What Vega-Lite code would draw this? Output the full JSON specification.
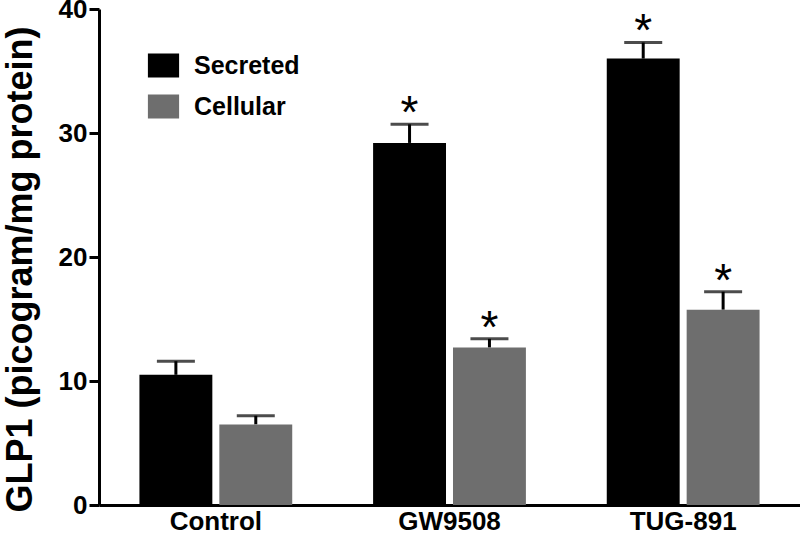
{
  "$schema": "https://vega.github.io/schema/vega-lite/v6.json",
  "autosize": {"type": "none"},
  "padding": {"left": 99, "top": 9, "right": 0, "bottom": 29},
  "width": 701,
  "height": 496,
  "background": "white",
  "config": {
    "view": {"stroke": null},
    "font": "Liberation Sans",
    "axis": {"labelColor": "black", "domainColor": "black", "tickColor": "black", "titleColor": "black", "grid": false}
  },
  "data": {
    "values": [
      {"group": "Control", "type": "Secreted", "value": 10.5, "upper": 11.6, "star": ""},
      {"group": "Control", "type": "Cellular", "value": 6.5, "upper": 7.2, "star": ""},
      {"group": "GW9508", "type": "Secreted", "value": 29.2, "upper": 30.7, "star": "*"},
      {"group": "GW9508", "type": "Cellular", "value": 12.7, "upper": 13.4, "star": "*"},
      {"group": "TUG-891", "type": "Secreted", "value": 36.0, "upper": 37.3, "star": "*"},
      {"group": "TUG-891", "type": "Cellular", "value": 15.75, "upper": 17.2, "star": "*"}
    ]
  },
  "encoding": {
    "x": {
      "field": "group", "type": "nominal", "sort": ["Control", "GW9508", "TUG-891"],
      "scale": {"paddingInner": 0, "paddingOuter": 0},
      "axis": {"title": null, "labelAngle": 0, "labelFontSize": 26, "labelFontWeight": "bold", "ticks": false, "labelPadding": 3, "domainWidth": 3}
    },
    "xOffset": {
      "field": "type", "type": "nominal", "sort": ["Secreted", "Cellular"],
      "scale": {"paddingInner": 0.0875, "paddingOuter": 0.506}
    }
  },
  "layer": [
    {
      "mark": {"type": "rule", "strokeWidth": 3, "color": "black"},
      "encoding": {
        "y": {"field": "value", "type": "quantitative"},
        "y2": {"field": "upper"}
      }
    },
    {
      "mark": {"type": "tick", "size": 38, "thickness": 3, "color": "black", "orient": "horizontal"},
      "encoding": {
        "y": {"field": "upper", "type": "quantitative"}
      }
    },
    {
      "mark": {"type": "bar"},
      "encoding": {
        "y": {
          "field": "value", "type": "quantitative",
          "scale": {"domain": [0, 40], "nice": false},
          "axis": {
            "title": "GLP1 (picogram/mg protein)", "values": [0, 10, 20, 30, 40],
            "labelFontSize": 26, "labelFontWeight": "bold", "labelPadding": 2,
            "tickSize": 10, "tickWidth": 3, "domainWidth": 3,
            "titleFontSize": 36, "titleFontWeight": "bold", "titleBaseline": "alphabetic",
            "titleX": -68, "titleY": 260, "titleAngle": -90, "titleAnchor": "middle"
          }
        },
        "color": {
          "field": "type", "type": "nominal", "sort": ["Secreted", "Cellular"],
          "scale": {"domain": ["Secreted", "Cellular"], "range": ["#000000", "#6e6e6e"]},
          "legend": {
            "title": null, "orient": "none", "legendX": 52, "legendY": 44,
            "padding": 0, "symbolType": "M-1.3,-1H1.3V1H-1.3Z", "symbolSize": 576,
            "symbolStrokeWidth": 0, "labelFontSize": 25, "labelFontWeight": "bold",
            "labelColor": "black", "labelOffset": 18, "rowPadding": 15, "labelBaseline": "middle"
          }
        }
      }
    },
    {
      "mark": {"type": "text", "fontSize": 46, "baseline": "alphabetic", "dy": 4, "color": "black"},
      "encoding": {
        "y": {"field": "upper", "type": "quantitative"},
        "text": {"field": "star"}
      }
    }
  ]
}
